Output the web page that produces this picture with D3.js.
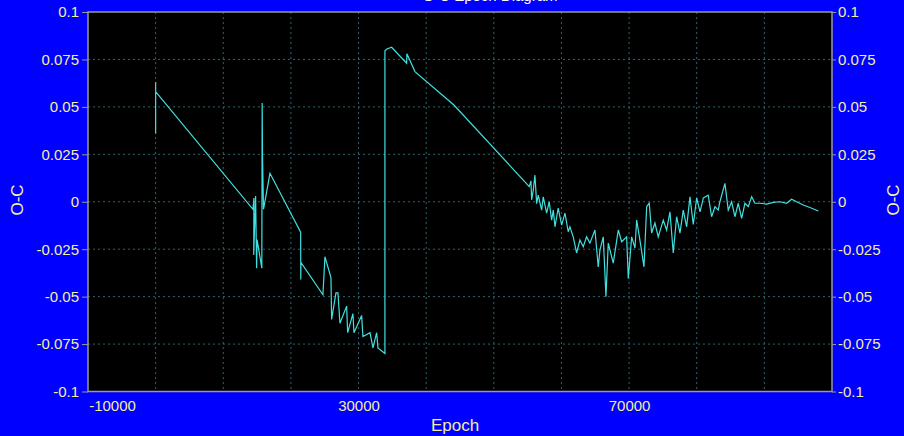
<!DOCTYPE html>
<html>
<head>
<meta charset="utf-8">
<script src="https://cdn.jsdelivr.net/npm/d3@7"></script>
<style>
  body { margin: 0; background: #0000fe; }
  svg { display: block; }
</style>
</head>
<body>
<svg width="904" height="436"></svg>
<script>
// O-C values
var epochs = [
  0, 0, 0, 0, 0,
  14390, 14530, 14500, 14780, 14930, 15000, 15700, 15750, 15800, 15950, 16900,
  21440, 21460, 21480, 24735, 25030, 25920, 26020, 26660, 26950, 27250, 28240,
  28390, 29170, 29320, 30460, 30650, 31690, 32130, 32680, 32870, 33900,
  33900, 34200, 34890, 37110, 37150, 38340, 44100,
  55240, 55490, 55590, 55830, 56080, 56330, 56570, 57070, 57310, 57810, 58190,
  58550, 58790, 59040, 59520, 60030, 60520, 61000, 61250, 61740, 62240, 62730,
  63220, 63720, 64210, 64950, 65440, 65690, 66180, 66580, 66920, 67660, 68400,
  68900, 69640, 69880, 70380, 70870, 71120, 71600, 72200, 72600, 72980, 73330,
  73820, 74310, 75050, 75550, 76040, 76530, 77030, 77520, 78010, 78510, 79000,
  79490, 79990, 80490, 80980, 81700, 82200, 82700, 83180, 83430, 84170, 84660,
  85160, 85650, 86140, 86640, 87130, 87620, 88120, 88610, 89350, 90340, 91310,
  92300, 93290, 94030, 94770, 95750, 96740, 97970
];
var ocValues = [
  0.060, 0.036, 0.063, 0.045, 0.058,
  -0.004, 0.002, -0.028, 0.003, -0.035, -0.020, -0.035, 0.052, 0.024, -0.004, 0.015,
  -0.016, -0.041, -0.032, -0.049, -0.029, -0.040, -0.062, -0.048, -0.048, -0.064, -0.055,
  -0.069, -0.059, -0.069, -0.060, -0.071, -0.069, -0.077, -0.069, -0.077, -0.080,
  0.0796, 0.0805, 0.0814, 0.073, 0.078, 0.0686, 0.051,
  0.008, 0.011, 0.001, 0.006, 0.014, -0.001, 0.0035, -0.0044, 0.0026, -0.006, 0.0,
  -0.0097, -0.0044, -0.0132, -0.0033, -0.0123, -0.006, -0.0158, -0.0132, -0.0185, -0.027, -0.0202,
  -0.0237, -0.0185, -0.0218, -0.0149, -0.0343, -0.0255, -0.0185, -0.0501, -0.0218, -0.0323, -0.0149,
  -0.0211, -0.0185, -0.0404, -0.0185, -0.0244, -0.0097, -0.0202, -0.0343, -0.0026, -0.0007, -0.0165,
  -0.0112, -0.0185, -0.0097, -0.0149, -0.0053, -0.027, -0.0079, -0.0165, -0.0044, -0.0132, 0.0026,
  -0.012, 0.002, -0.0053, 0.002, 0.0035, -0.0079, -0.0026, -0.0044, 0.0, 0.0097, -0.0044,
  0.0, -0.0079, -0.0008, -0.0088, -0.0008, -0.0026, 0.0026, -0.0008, -0.0008, -0.0012, -0.0003,
  0.0, -0.0008, 0.0013, 0.0, -0.0017, -0.003, -0.0049
];
var xTicks = [-10000, 0, 10000, 20000, 30000, 40000, 50000, 60000, 70000, 80000, 90000, 100000];
var xLabelled = [-10000, 30000, 70000];
var yTicks = [-0.1, -0.075, -0.05, -0.025, 0, 0.025, 0.05, 0.075, 0.1];
var titleText = "O-C Epoch Diagram";

var svg = d3.select("svg"),
  plotLeft = 88,
  plotRight = 832,
  plotTop = 12,
  plotBottom = 391.5;

var data = epochs.map(function (e, i) {
  return { x: e, y: ocValues[i] };
});

var xScale = d3.scaleLinear().domain([-10000, 100000]).range([plotLeft, plotRight]);
var yScale = d3.scaleLinear().domain([-0.1, 0.1]).range([plotBottom, plotTop]);

var labelColor = "#f4eea0";

// plot area
svg.append("rect")
  .attr("x", plotLeft)
  .attr("y", plotTop)
  .attr("width", plotRight - plotLeft)
  .attr("height", plotBottom - plotTop)
  .attr("fill", "#000");

// grid
svg.append("g")
  .selectAll("line")
  .data(xTicks.slice(1, -1))
  .enter()
  .append("line")
  .attr("x1", (d) => xScale(d))
  .attr("x2", (d) => xScale(d))
  .attr("y1", plotTop)
  .attr("y2", plotBottom)
  .attr("stroke", "#2d6470")
  .attr("stroke-dasharray", "2,3");

svg.append("g")
  .selectAll("line")
  .data(yTicks.slice(1, -1))
  .enter()
  .append("line")
  .attr("x1", plotLeft)
  .attr("x2", plotRight)
  .attr("y1", (d) => yScale(d))
  .attr("y2", (d) => yScale(d))
  .attr("stroke", "#2d6470")
  .attr("stroke-dasharray", "2,3");

// data line
svg.append("path")
  .datum(data)
  .attr("fill", "none")
  .attr("stroke", "#40e0e0")
  .attr("stroke-width", 1.2)
  .attr("d", d3.line().x((d) => xScale(d.x)).y((d) => yScale(d.y)));

// border
svg.append("rect")
  .attr("x", plotLeft)
  .attr("y", plotTop)
  .attr("width", plotRight - plotLeft)
  .attr("height", plotBottom - plotTop)
  .attr("fill", "none")
  .attr("stroke", "#9a9a9a")
  .attr("stroke-width", 1.5);

function styleAxis(g) {
  g.select(".domain").remove();
  g.selectAll(".tick line").attr("stroke", "#9a9a9a");
  g.selectAll(".tick text")
    .attr("fill", labelColor)
    .attr("font-family", "Liberation Sans, Arial, sans-serif")
    .attr("font-size", "15px");
}

var fmtY = function (d) {
  return String(+d.toFixed(3));
};

svg.append("g")
  .attr("transform", "translate(" + plotLeft + ",0)")
  .call(d3.axisLeft(yScale).tickValues(yTicks).tickSize(6).tickPadding(3).tickFormat(fmtY))
  .call(styleAxis);

svg.append("g")
  .attr("transform", "translate(" + plotRight + ",0)")
  .call(d3.axisRight(yScale).tickValues(yTicks).tickSize(4).tickPadding(2).tickFormat(fmtY))
  .call(styleAxis);

var xAxis = svg.append("g")
  .attr("transform", "translate(0," + plotBottom + ")")
  .call(d3.axisBottom(xScale).tickValues(xTicks).tickSize(0).tickPadding(9)
    .tickFormat((d) => (xLabelled.indexOf(d) >= 0 ? d : "")))
  .call(styleAxis);
xAxis.selectAll(".tick text")
  .filter((d) => d === -10000)
  .attr("dx", 24);

// axis titles
svg.append("text")
  .attr("x", 455)
  .attr("y", 431)
  .attr("text-anchor", "middle")
  .attr("fill", labelColor)
  .attr("font-family", "Liberation Sans, Arial, sans-serif")
  .attr("font-size", "17px")
  .text("Epoch");

svg.append("text")
  .attr("transform", "translate(23,200) rotate(-90)")
  .attr("text-anchor", "middle")
  .attr("fill", labelColor)
  .attr("font-family", "Liberation Sans, Arial, sans-serif")
  .attr("font-size", "17px")
  .text("O-C");

svg.append("text")
  .attr("transform", "translate(899,200) rotate(-90)")
  .attr("text-anchor", "middle")
  .attr("fill", labelColor)
  .attr("font-family", "Liberation Sans, Arial, sans-serif")
  .attr("font-size", "17px")
  .text("O-C");

// title, mostly above the visible area
svg.append("text")
  .attr("x", 490)
  .attr("y", 1)
  .attr("text-anchor", "middle")
  .attr("fill", "#fff")
  .attr("font-family", "Liberation Sans, Arial, sans-serif")
  .attr("font-size", "15px")
  .text(titleText);
</script>
</body>
</html>
